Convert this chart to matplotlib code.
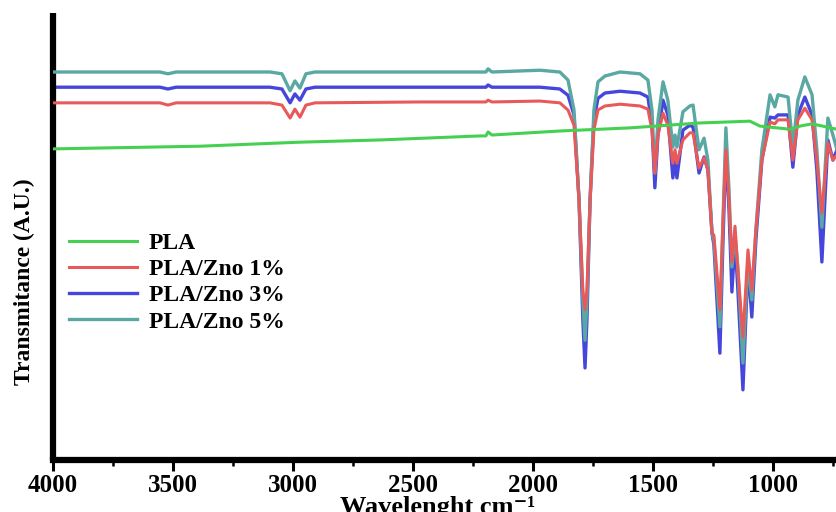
import matplotlib.pyplot as plt
import matplotlib.ticker as ticker

# wavenumber (cm-1) grid shared by the ZnO composite spectra
wn = [4000, 3762, 3554, 3521, 3487, 3096, 3046, 3012, 2992, 2971, 2946, 2908,
      2471, 2196, 2187, 2171, 1971, 1888, 1854, 1829, 1808, 1792, 1783, 1775,
      1762, 1746, 1729, 1700, 1637, 1554, 1521, 1504, 1492, 1479, 1458, 1438,
      1417, 1408, 1400, 1375, 1346, 1333, 1308, 1287, 1271, 1254, 1246, 1221,
      1208, 1196, 1183, 1171, 1158, 1146, 1125, 1104, 1088, 1071, 1046, 1012,
      992, 979, 937, 917, 896, 867, 837, 817, 796, 771, 750, 733]

# transmittance (A.U.)
zno5 = [86.8, 86.8, 86.8, 86.4, 86.8, 86.8, 86.4, 82.6, 84.8, 83.2, 86.4, 86.8,
        86.8, 86.8, 87.5, 86.8, 87.2, 86.8, 85.0, 78.3, 58.2, 35.8, 26.8, 35.8,
        58.2, 78.3, 84.6, 85.9, 86.8, 86.4, 85.0, 78.3, 64.2, 76.1, 84.6, 80.5,
        70.0, 72.7, 70.0, 77.9, 79.2, 79.4, 69.4, 72.0, 67.1, 50.8, 49.2, 29.8,
        53.7, 74.3, 60.4, 43.2, 50.3, 43.0, 21.7, 44.7, 35.8, 51.5, 69.4, 81.7,
        79.0, 81.7, 81.2, 70.0, 80.5, 85.7, 81.7, 69.4, 52.1, 76.5, 72.7, 69.4]
zno3 = [83.4, 83.4, 83.4, 83.0, 83.4, 83.4, 83.0, 79.9, 81.9, 80.5, 83.0, 83.4,
        83.4, 83.4, 83.9, 83.4, 83.4, 83.0, 81.6, 77.2, 58.2, 31.3, 20.6, 31.3,
        58.2, 76.1, 80.9, 82.1, 82.5, 82.1, 81.2, 74.9, 60.9, 72.7, 80.5, 77.2,
        63.1, 67.1, 63.1, 73.8, 74.9, 74.5, 64.2, 67.8, 64.9, 50.8, 48.1, 23.9,
        49.2, 69.4, 55.9, 37.6, 49.2, 38.0, 15.7, 43.6, 32.0, 49.2, 67.1, 76.7,
        76.5, 77.2, 77.2, 65.5, 77.2, 81.2, 77.2, 64.9, 44.3, 71.6, 67.1, 69.4]
zno1 = [79.9, 79.9, 79.9, 79.4, 79.9, 79.9, 79.4, 76.5, 78.5, 76.7, 79.4, 79.9,
        80.1, 80.1, 80.5, 80.1, 80.3, 79.9, 78.3, 74.9, 58.2, 38.0, 33.6, 38.0,
        58.2, 73.8, 78.3, 79.2, 79.6, 79.2, 78.5, 73.8, 64.2, 72.7, 77.6, 74.9,
        66.4, 69.4, 66.4, 71.6, 73.2, 73.2, 65.3, 67.6, 64.9, 50.8, 50.3, 33.6,
        53.7, 69.4, 58.2, 44.3, 52.3, 42.5, 27.5, 47.0, 38.0, 51.5, 67.1, 75.6,
        75.2, 76.1, 76.1, 67.1, 76.1, 78.7, 76.1, 67.1, 55.3, 70.9, 67.1, 68.2]

# neat PLA
wn_pla = [4000, 3387, 2971, 2637, 2221, 2196, 2187, 2171, 1888, 1596, 1304,
          1096, 1054, 929, 887, 837, 733]
pla = [69.6, 70.2, 71.1, 71.6, 72.5, 72.5, 73.4, 72.7, 73.6, 74.3, 75.4,
       75.8, 74.7, 74.0, 74.7, 75.2, 74.0]

fig = plt.figure(figsize=(8.37, 5.12), dpi=100)
ax = fig.add_axes([53/837, 52/512, 1 - 53/837, 447/512])

ax.plot(wn, zno3, color='#4646dc', lw=2.4, label='PLA/Zno 3%', zorder=2)
ax.plot(wn, zno5, color='#5aa8a3', lw=2.4, label='PLA/Zno 5%', zorder=3)
ax.plot(wn, zno1, color='#e85a5a', lw=2.2, label='PLA/Zno 1%', zorder=4)
ax.plot(wn_pla, pla, color='#45d052', lw=2.2, label='PLA', zorder=5)

ax.set_xlim(4000, 733)
ax.set_ylim(0, 100)

ax.spines['top'].set_visible(False)
ax.spines['right'].set_visible(False)
ax.spines['left'].set_linewidth(4.5)
ax.spines['bottom'].set_linewidth(4.5)
ax.spines['left'].set_capstyle('butt')

ax.set_yticks([])
ax.xaxis.set_major_locator(ticker.MultipleLocator(500))
ax.xaxis.set_minor_locator(ticker.MultipleLocator(250))
ax.tick_params(axis='x', which='major', direction='out', length=8, width=2.2, pad=2)
ax.tick_params(axis='x', which='minor', direction='out', length=4, width=1.8)

serif = ['Liberation Serif', 'DejaVu Serif']
for lab in ax.get_xticklabels():
    lab.set_fontfamily(serif)
    lab.set_fontweight('bold')
    lab.set_fontsize(18)

ax.set_xlabel('Wavelenght cm\u207b\u00b9', fontfamily=serif, fontweight='bold',
              fontsize=19)
ax.xaxis.set_label_coords(0.49, -0.08)
ax.xaxis.label.set_va('top')
fig.text(0.029, 0.45, 'Transmitance (A.U.)', rotation=90, ha='center', va='center',
         fontfamily=serif, fontweight='bold', fontsize=17)

handles, labels = ax.get_legend_handles_labels()
order = [3, 2, 0, 1]
leg = ax.legend([handles[i] for i in order], [labels[i] for i in order],
                loc='upper left', bbox_to_anchor=(-0.007, 0.557), frameon=False,
                handlelength=2.9, labelspacing=0.2, handletextpad=0.5,
                prop={'family': serif, 'weight': 'bold', 'size': 17})

fig.savefig('out.png', dpi=100)
